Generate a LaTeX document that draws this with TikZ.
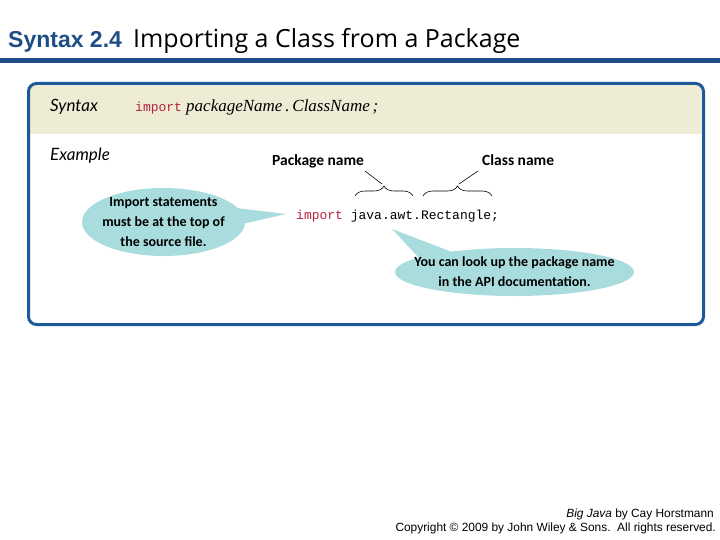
\documentclass[tikz,border=0pt]{standalone}
\usepackage{fontspec}
\setmainfont{Liberation Sans}
\newfontfamily\titlefont{Open Sans}
\newfontfamily\labfont{Lato}
\newfontfamily\serfont{Liberation Serif}
\newfontfamily\monofont{Liberation Mono}
\newfontfamily\handfont{Carlito}
\usetikzlibrary{shapes.geometric,decorations.pathreplacing}
\definecolor{titleblue}{HTML}{1F4E86}
\definecolor{boxblue}{HTML}{1E5A9A}
\definecolor{beige}{HTML}{EEECD4}
\definecolor{bubble}{HTML}{A9DCDC}
\definecolor{kwred}{HTML}{B3223E}
\tikzset{
  bub/.style={ellipse, fill=bubble, inner sep=0pt},
  bubtext/.style={align=center, inner sep=0pt,
    font=\handfont\bfseries\fontsize{14}{20}\selectfont},
  hand/.style={font=\handfont\bfseries\fontsize{15.5}{15.5}\selectfont, inner sep=0pt},
  lab/.style={font=\labfont\itshape\fontsize{17}{17}\selectfont, anchor=base west, inner sep=0pt},
  code/.style={font=\monofont\fontsize{13}{13}\selectfont, anchor=base west, inner sep=0pt},
  foot/.style={font=\fontsize{11.9}{13}\selectfont, anchor=base east, inner sep=0pt},
  ptr/.style={line width=0.6pt},
  brc/.style={decorate, decoration={brace, amplitude=10pt}, line width=0.6pt}
}
\begin{document}
\begin{tikzpicture}[x=1pt,y=-1pt]
\useasboundingbox (0,0) rectangle (720,540);
% title
\node[anchor=base west, inner sep=0pt, font=\bfseries\fontsize{23}{23}\selectfont, text=titleblue] (t1) at (8,48) {Syntax 2.4};
\node[anchor=base west, inner sep=0pt, font=\titlefont\fontsize{25}{25}\selectfont] (t2) at (133,48) {Importing a Class from a Package};
\draw[titleblue, line width=4.5pt] (0,60.5) -- (720,60.5);
% box
\begin{scope}
\clip[rounded corners=8pt] (28.5,83.5) rectangle (703.5,324.5);
\fill[beige] (28.5,83.5) rectangle (703.5,134);
\end{scope}
\draw[boxblue, line width=3pt, rounded corners=8pt] (28.5,83.5) rectangle (703.5,324.5);
% syntax line
\node[lab] (syn) at (50,112) {Syntax};
\node[code, text=kwred] (imp1) at (135,112) {import};
\node[anchor=base west, inner sep=0pt, font=\serfont\itshape\fontsize{17}{17}\selectfont] (sig) at (186,112) {packageName\,.\,ClassName\,;};
% example
\node[lab] (ex) at (50,161) {Example};
\node[code] (codeline) at (296,219) {\textcolor{kwred}{import} java.awt.Rectangle;};
% labels
\node[hand, anchor=base west] (pkg) at (272,166) {Package name};
\node[hand, anchor=base west] (cls) at (482,166) {Class name};
\draw[brc] (355,196) -- (413,196);
\draw[brc] (423,196) -- (492,196);
\coordinate (b1) at (382,184);
\coordinate (b2) at (459,184);
\coordinate (p1) at (365,171);
\coordinate (p2) at (478,171);
\draw[ptr] (p1) -- (b1);
\draw[ptr] (p2) -- (b2);
% left bubble
\coordinate (tipL) at (286,214);
\node[bub, minimum width=163pt, minimum height=68pt] (bl) at (163.5,222) {};
\fill[bubble] (236,208) -- (tipL) -- (238,225) -- cycle;
\node[bubtext] (blt) at (bl.center) {Import statements\\must be at the top of\\the source file.};
% right bubble
\coordinate (tipR) at (392,229);
\node[bub, minimum width=239pt, minimum height=48pt] (br) at (514.5,272) {};
\fill[bubble] (420,259) -- (tipR) -- (452,252) -- cycle;
\node[bubtext] (brt) at (br.center) {You can look up the package name\\in the API documentation.};
% footer
\node[foot] (f1) at (714,517) {\textit{Big Java} by Cay Horstmann};
\node[foot] (f2) at (716,531) {Copyright \textcopyright{} 2009 by John Wiley \& Sons.\ \ All rights reserved.};
\end{tikzpicture}
\end{document}
